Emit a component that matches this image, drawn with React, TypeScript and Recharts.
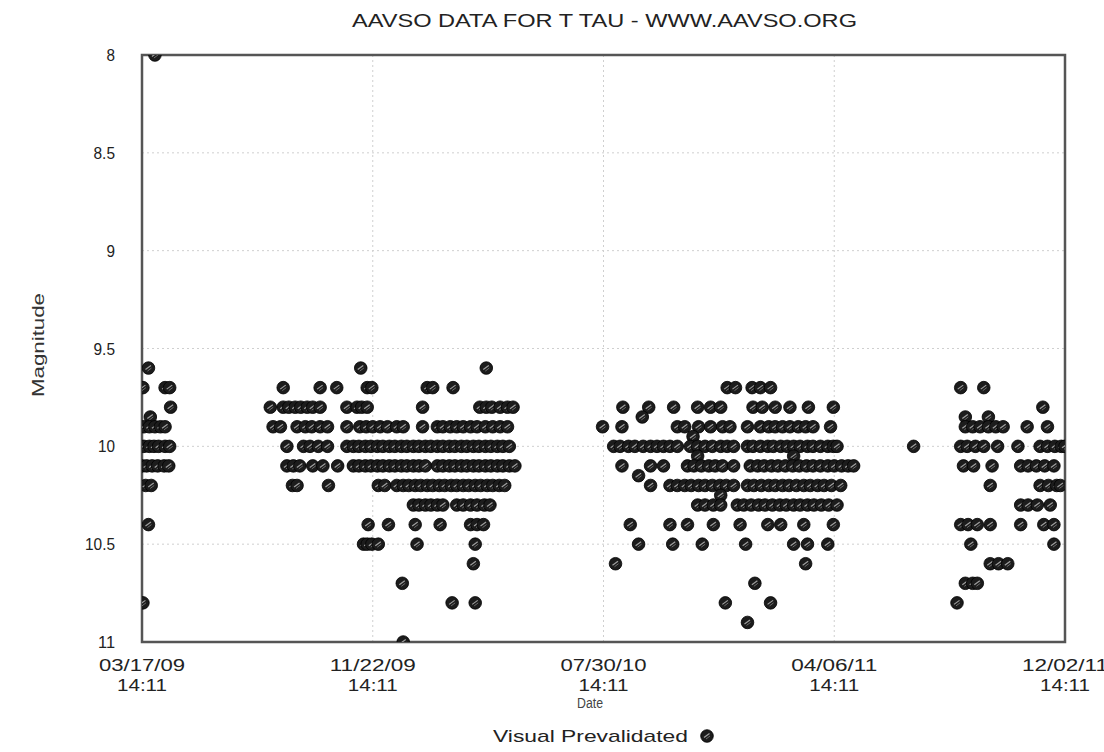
import React from "react";
import {
  ScatterChart,
  Scatter,
  XAxis,
  YAxis,
  CartesianGrid,
  ReferenceArea,
  Legend,
} from "recharts";

// x values: days since 03/17/09 14:11
const xTicks = [0, 250, 500, 750, 1000];
const xTickDates = ["03/17/09", "11/22/09", "07/30/10", "04/06/11", "12/02/11"];
const xTickTimes = ["14:11", "14:11", "14:11", "14:11", "14:11"];
const yTicks = [8, 8.5, 9, 9.5, 10, 10.5, 11];

const m80 = [14];
const m96 = [7, 237, 373];
const m97 = [1, 25, 30, 153, 193, 211, 244, 249, 309, 315, 337, 634, 643, 661, 670, 681, 887, 912];
const m98 = [31, 139, 153, 159, 166, 172, 179, 185, 193, 222, 233, 238, 244, 304, 366, 373, 379, 388, 396, 402,
  521, 549, 576, 602, 616, 627, 662, 672, 686, 702, 722, 749, 976];
const m985 = [9, 542, 892, 917];
const m99 = [2, 8, 14, 20, 25, 142, 150, 168, 177, 184, 193, 201, 222, 236, 243, 250, 258, 266, 276, 283, 304,
  320, 326, 334, 341, 348, 356, 363, 372, 380, 388, 396,
  499, 520, 580, 588, 603, 616, 629, 637, 656, 670, 679, 686, 694, 702, 711, 719, 727, 746,
  892, 900, 908, 917, 925, 933, 959, 981];
const m995 = [597];
const m100 = [2, 8, 13, 18, 25, 30, 157, 175, 182, 191, 201, 222, 229, 235, 242, 248, 255, 261, 268, 274, 281,
  287, 294, 300, 307, 313, 320, 326, 333, 339, 346, 352, 359, 365, 372, 378, 385, 391, 398,
  511, 518, 527, 534, 543, 551, 558, 565, 572, 580, 594, 602, 610, 618, 627, 634, 641, 656, 662, 670, 678,
  684, 692, 699, 706, 713, 721, 727, 735, 743, 749, 753,
  836, 887, 894, 903, 912, 927, 949, 973, 981, 989, 996, 1000];
const m1005 = [602, 706];
const m101 = [0, 5, 11, 17, 24, 29, 157, 164, 171, 185, 196, 212, 229, 235, 242, 248, 255, 261, 268, 274, 281,
  287, 294, 300, 307, 320, 326, 333, 339, 346, 352, 359, 365, 372, 378, 385, 391, 398, 404,
  520, 551, 565, 591, 598, 606, 614, 621, 629, 641, 659, 667, 674, 682, 689, 697, 705, 712, 720, 727, 735,
  743, 750, 758, 765, 771,
  890, 901, 921, 952, 960, 969, 978, 988];
const m1015 = [538];
const m102 = [4, 10, 163, 168, 202, 256, 263, 276, 283, 289, 296, 302, 309, 315, 322, 328, 335, 341, 348, 354,
  361, 367, 374, 380, 387, 393,
  551, 572, 580, 588, 595, 603, 610, 618, 626, 633, 641, 656, 663, 671, 679, 686, 694, 701, 709, 717, 724,
  732, 739, 747, 757,
  919, 973, 982, 991, 995];
const m1025 = [627];
const m103 = [294, 300, 307, 313, 320, 326, 341, 348, 356, 363, 371, 377,
  602, 610, 619, 627, 645, 652, 660, 668, 675, 683, 691, 698, 706, 713, 721, 728, 736, 744, 753,
  952, 960, 970, 984];
const m104 = [7, 245, 267, 296, 323, 356, 363, 370, 529, 572, 591, 619, 648, 678, 692, 717, 749,
  887, 895, 905, 919, 952, 977, 988];
const m105 = [240, 244, 249, 256, 298, 361, 538, 575, 607, 654, 706, 721, 743, 898, 988];
const m106 = [359, 513, 719, 919, 928, 938];
const m107 = [282, 664, 892, 900, 905];
const m108 = [1, 336, 361, 632, 681, 883];
const m109 = [656];
const m110 = [283];

const rows: [number, number[]][] = [
  [8.0, m80], [9.6, m96], [9.7, m97], [9.8, m98], [9.85, m985], [9.9, m99], [9.95, m995],
  [10.0, m100], [10.05, m1005], [10.1, m101], [10.15, m1015], [10.2, m102], [10.25, m1025],
  [10.3, m103], [10.4, m104], [10.5, m105], [10.6, m106], [10.7, m107], [10.8, m108],
  [10.9, m109], [11.0, m110],
];

const data = rows.flatMap(([mag, days]) => days.map((d) => ({ day: d, mag })));

const FONT = "'Liberation Sans Narrow', 'Liberation Sans', Arial, sans-serif";

const Marker = (props: any) => {
  const { cx, cy } = props;
  if (cx == null || cy == null) return null;
  return (
    <g>
      <circle cx={cx} cy={cy} r={6.3} fill="#1c1c1c" stroke="#000" strokeWidth={0.8} />
      <path d={`M${cx - 3},${cy + 1.5} L${cx + 2.5},${cy - 2.5}`} stroke="#a0a0a0" strokeWidth={1.2} />
      <path d={`M${cx - 1},${cy + 3} L${cx + 3},${cy}`} stroke="#777" strokeWidth={0.9} />
    </g>
  );
};

const XTick = (props: any) => {
  const { x, y, payload, index } = props;
  const i = xTicks.indexOf(payload.value);
  return (
    <g>
      <text x={x} y={y + 21} textAnchor="middle" fontFamily={FONT} fontSize={17} fill="#222"
        textLength={86} lengthAdjust="spacingAndGlyphs">
        {xTickDates[i >= 0 ? i : index]}
      </text>
      <text x={x} y={y + 41} textAnchor="middle" fontFamily={FONT} fontSize={17} fill="#222"
        textLength={50} lengthAdjust="spacingAndGlyphs">
        {xTickTimes[i >= 0 ? i : index]}
      </text>
    </g>
  );
};

const YTick = (props: any) => {
  const { x, y, payload } = props;
  const s = String(payload.value);
  return (
    <text x={x - 19} y={y + 6} textAnchor="end" fontFamily={FONT} fontSize={17} fill="#222"
      textLength={s.length * 8.5 + (s.includes(".") ? -4 : 0)} lengthAdjust="spacingAndGlyphs">
      {s}
    </text>
  );
};

const LegendContent = () => (
  <div style={{ position: "relative", width: 1104, height: 30 }}>
    <svg width={1104} height={30}>
      <text x={493} y={20} fontFamily={FONT} fontSize={17} fill="#222" textLength={195}
        lengthAdjust="spacingAndGlyphs">
        Visual Prevalidated
      </text>
      <Marker cx={707} cy={14} />
    </svg>
  </div>
);

export default function App() {
  return (
    <div style={{ position: "absolute", left: 0, top: 0, width: 1104, height: 752, background: "#fff" }}>
      <ScatterChart width={1104} height={752} margin={{ top: 55, right: 39, bottom: 50, left: 82 }}>
        <CartesianGrid stroke="#cfcfcf" strokeDasharray="2 3" />
        <XAxis
          type="number"
          dataKey="day"
          domain={[0, 1000]}
          ticks={xTicks}
          allowDataOverflow
          height={60}
          tick={<XTick />}
          tickLine={false}
          axisLine={false}
          interval={0}
        />
        <YAxis
          type="number"
          dataKey="mag"
          reversed
          domain={[8, 11]}
          ticks={yTicks}
          allowDataOverflow
          width={60}
          tick={<YTick />}
          tickLine={false}
          axisLine={false}
          interval={0}
        />
        <ReferenceArea x1={0} x2={1000} y1={8} y2={11} fill="none" stroke="#555" strokeWidth={2.5}
          ifOverflow="visible" />
        <Scatter data={data} isAnimationActive={false} shape={<Marker />} name="Visual Prevalidated" />
        <Legend
          layout="horizontal"
          verticalAlign="middle"
          content={<LegendContent />}
          wrapperStyle={{ position: "absolute", left: 0, top: 722, width: 1104, height: 30 }}
        />
      </ScatterChart>
      <svg width={1104} height={752} style={{ position: "absolute", left: 0, top: 0, pointerEvents: "none" }}>
        <text x={352} y={27} fontFamily={FONT} fontSize={19} fill="#222" textLength={505}
          lengthAdjust="spacingAndGlyphs">
          AAVSO DATA FOR T TAU - WWW.AAVSO.ORG
        </text>
        <text x={0} y={0} transform="translate(44,345) rotate(-90)" textAnchor="middle" fontFamily={FONT}
          fontSize={16} fill="#333" textLength={104} lengthAdjust="spacingAndGlyphs">
          Magnitude
        </text>
        <text x={590} y={708} textAnchor="middle" fontFamily={FONT} fontSize={14} fill="#444"
          textLength={26} lengthAdjust="spacingAndGlyphs">
          Date
        </text>
      </svg>
    </div>
  );
}
